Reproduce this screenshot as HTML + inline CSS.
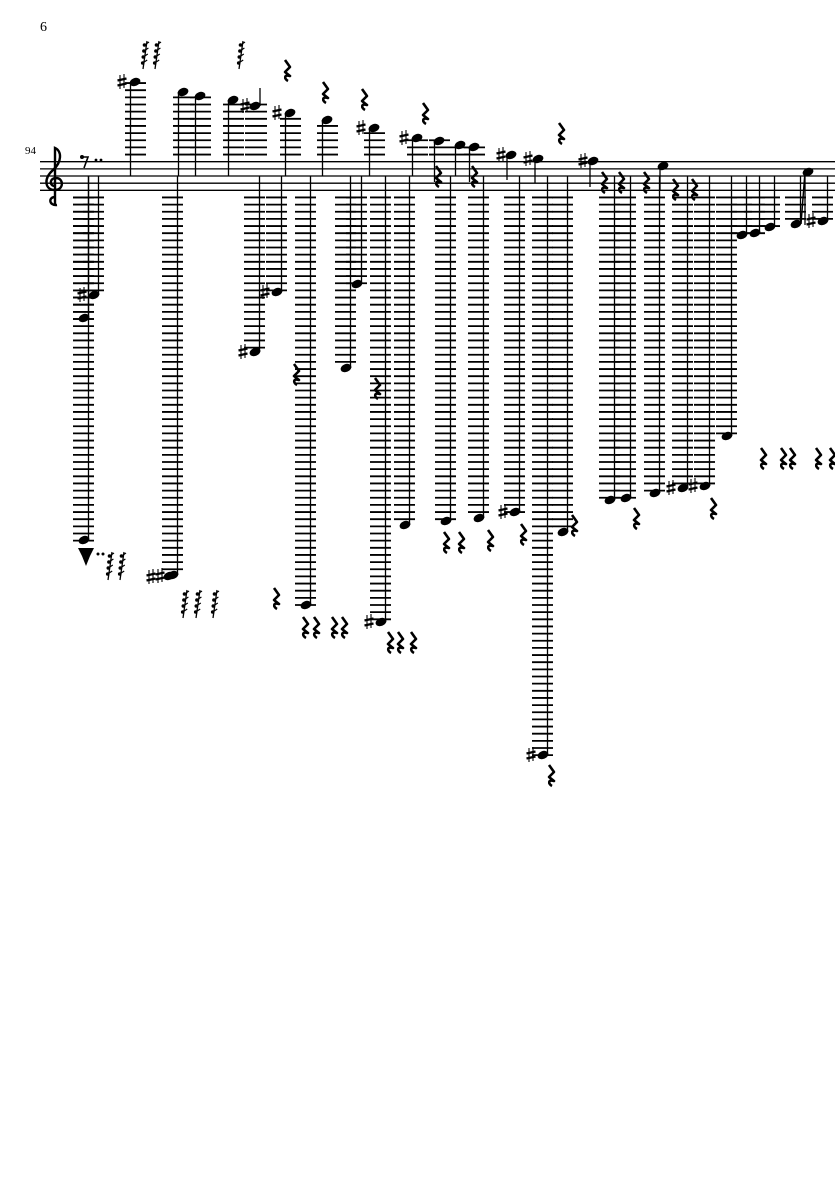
<!DOCTYPE html>
<html><head><meta charset="utf-8"><style>
html,body{margin:0;padding:0;background:#fff;}
svg{display:block;}
text{font-family:"Liberation Serif",serif;}
</style></head><body>
<svg id="s" width="835" height="1181" viewBox="0 0 835 1181" xmlns="http://www.w3.org/2000/svg">
<text x="40" y="31" font-size="14">6</text>
<text x="25" y="154" font-size="11">94</text>
<g stroke="#000" stroke-width="1.3">
<line x1="40" y1="161.7" x2="835" y2="161.7"/>
<line x1="40" y1="168.9" x2="835" y2="168.9"/>
<line x1="40" y1="176" x2="835" y2="176"/>
<line x1="40" y1="183.2" x2="835" y2="183.2"/>
<line x1="40" y1="190.3" x2="835" y2="190.3"/>
</g>
<path d="M57 205 C49 206 48 197 55 197 M55 205 L55 148 C62 151 62 162 53 170 C43 179 45 190 55 190 C64 190 64 178 56 178 C50 178 49 185 54 186" fill="none" stroke="#000" stroke-width="2.4"/>
<g id="g"></g>
</svg>
<script>
var g=document.getElementById('g'),o='';
var TOP=161.7,BOT=190.3,SP=7.15;
function ln(a,b,c,d,w){o+='<line x1="'+a+'" y1="'+b+'" x2="'+c+'" y2="'+d+'" stroke="#000" stroke-width="'+(w||1.8)+'"/>';}
function head(x,y){o+='<ellipse cx="'+x+'" cy="'+y+'" rx="5.6" ry="3.9" transform="rotate(-22 '+x+' '+y+')" fill="#000"/>';}
function sharp(x,y){ln(x-2,y-7,x-2,y+7,1.1);ln(x+2,y-8,x+2,y+6,1.1);ln(x-4.5,y-1.5,x+4.5,y-3.5,2.2);ln(x-4.5,y+3.5,x+4.5,y+1.5,2.2);}
function up(sx,y,sh,stemEnd){
  for(var ly=TOP-SP;ly>=y-1;ly-=SP)ln(sx-5,ly,sx+16,ly);
  head(sx+5,y); ln(sx+0.5,y,sx+0.5,stemEnd||176,1.3);
  if(sh)sharp(sx-8,y);
}
function dn(sx,y,sh){
  for(var ly=BOT+SP;ly<=y+1;ly+=SP)ln(sx-16,ly,sx+5,ly);
  head(sx-5,y); ln(sx-0.5,y,sx-0.5,176,1.3);
  if(sh)sharp(sx-17,y);
}
function rest(x,y){o+='<path d="M'+(x-2)+' '+(y-10)+' L'+(x+3)+' '+(y-3)+' L'+(x-2)+' '+(y+2)+' L'+(x+3)+' '+(y+6)+' C'+(x-3)+' '+(y+4)+' '+(x-3)+' '+(y+9)+' '+(x+1)+' '+(y+11)+'" fill="none" stroke="#000" stroke-width="2.6" stroke-linejoin="round"/>';}
function grace(x,y){ln(x,y+14,x+4,y-14,1.3);for(var i=0;i<4;i++){o+='<circle cx="'+(x+4-i*0.6-2.5)+'" cy="'+(y-10+i*6)+'" r="1.8" fill="#000"/>';ln(x+4-i*0.6-1,y-11+i*6,x+6-i*0.6,y-13+i*6,1.2);}}
up(130,82,1);up(178,92);up(195,96);up(228,100);
(function(){for(var ly=TOP-SP;ly>=104;ly-=SP)ln(245,ly,267,ly);head(255,106);ln(260,106,260,88,1.3);sharp(245,106);})();
up(285,113,1);up(322,120);up(369,128,1);up(412,138,1);up(434,141,0,182);
up(455,145);up(469,147,0,182);
(function(){head(511,155);ln(507,155,507,180,1.3);sharp(501,155);head(538,159);ln(535,159,535,183,1.3);sharp(528,159);head(593,161);ln(590,161,590,187,1.3);sharp(583,161);head(663,166);ln(660,166,660,190,1.3);head(808,172);ln(805,172,805,225,1.3);})();
dn(99,295,1);dn(89,318);dn(89,540);
o+='<path d="M78 548 L94 548 L90 556 L86 566 L82 556 Z" fill="#000"/><circle cx="98" cy="554" r="1.5"/><circle cx="103" cy="554" r="1.5"/>';
dn(178,575,0);head(169,576);sharp(160,576);sharp(151,577);
dn(260,352,1);dn(282,292,1);dn(311,605);dn(362,284);dn(351,368);dn(386,622,1);dn(410,525);dn(451,521);dn(484,518);dn(520,512,1);dn(548,755,1);dn(568,532);dn(615,500);dn(631,498);dn(660,493);dn(688,488,1);dn(710,486,1);dn(732,436);dn(747,235);dn(760,233);dn(775,227);dn(801,224);dn(828,221,1);
ln(801,224,805,172,1.5);
[[287,70],[325,92],[364,99],[425,113],[561,133],[438,176],[474,176],[604,182],[621,182],[646,182],[675,189],[694,189],[296,374],[377,388],[763,458],[783,458],[792,458],[818,458],[832,458],[636,518],[713,508],[446,542],[461,542],[490,540],[523,534],[574,525],[276,598],[305,627],[316,627],[334,627],[344,627],[390,642],[400,642],[413,642],[551,775]].forEach(function(p){rest(p[0],p[1]);});
o+='<path d="M81 157 L88 157 L84 168" fill="none" stroke="#000" stroke-width="1.6"/><circle cx="82" cy="157" r="2"/><circle cx="96" cy="160" r="1.4"/><circle cx="101" cy="160" r="1.4"/>';
grace(143,55);grace(155,55);grace(239,55);grace(108,566);grace(120,566);grace(183,604);grace(196,604);grace(213,604);
g.innerHTML=o;
</script>
</body></html>
